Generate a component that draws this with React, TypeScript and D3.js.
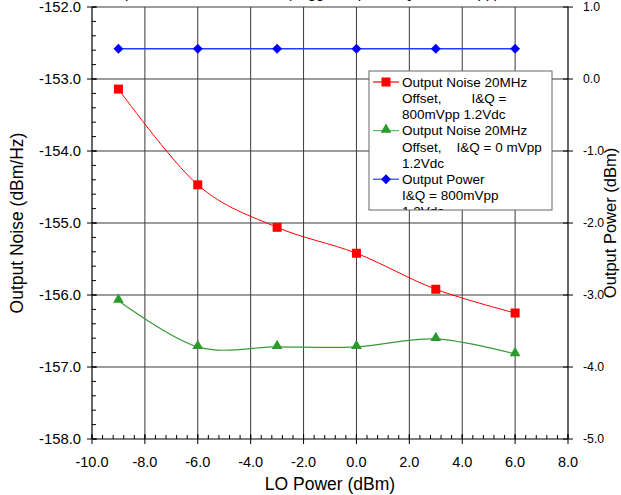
import React from "react";
import * as d3 from "d3";

const loPower = [-9, -6, -3, 0, 3, 6];
const noise800 = [-153.14, -154.47, -155.06, -155.42, -155.92, -156.25];
const noise0 = [-156.08, -156.72, -156.72, -156.72, -156.61, -156.82];
const outPower = [0.42, 0.42, 0.42, 0.42, 0.42, 0.42];

const xTicks = [-10, -8, -6, -4, -2, 0, 2, 4, 6, 8];
const yLeftTicks = [-152, -153, -154, -155, -156, -157, -158];
const yRightTicks = [1, 0, -1, -2, -3, -4, -5];

const legendLines = [
  ["Output Noise 20MHz", "Offset,        I&Q =", "800mVpp 1.2Vdc"],
  ["Output Noise 20MHz", "Offset,    I&Q = 0 mVpp", "1.2Vdc"],
  ["Output Power", "I&Q = 800mVpp", "1.2Vdc"],
];

const W = 621;
const H = 495;
const L = 92;
const R = 568;
const T = 7;
const B = 439;
const FONT = "Liberation Sans, Arial, Helvetica, sans-serif";

export default function App() {
  const x = d3.scaleLinear().domain([-10, 8]).range([L, R]);
  const yL = d3.scaleLinear().domain([-158, -152]).range([B, T]);
  const yR = d3.scaleLinear().domain([-5, 1]).range([B, T]);
  const curve = d3.curveCatmullRom.alpha(0);

  const lineL = d3
    .line<[number, number]>()
    .x((d) => x(d[0]))
    .y((d) => yL(d[1]))
    .curve(curve);
  const lineR = d3
    .line<[number, number]>()
    .x((d) => x(d[0]))
    .y((d) => yR(d[1]))
    .curve(curve);

  const red = loPower.map((v, i) => [v, noise800[i]] as [number, number]);
  const green = loPower.map((v, i) => [v, noise0[i]] as [number, number]);
  const blue = loPower.map((v, i) => [v, outPower[i]] as [number, number]);

  const xMinor = d3.range(-10, 8.001, 0.4);
  const yMinor = d3.range(-158, -151.999, 0.2);

  const gridColor = "#3a3a3a";
  const tri = d3.symbol().type(d3.symbolTriangle).size(50)() as string;
  const fmt = (t: number) => d3.format(".1f")(t).replace("−", "-");

  const legX = 369;
  const legY = 71;
  const legW = 183;
  const legH = 139;
  const lineH = 16.2;

  return (
    <svg
      width={W}
      height={H}
      style={{ position: "absolute", left: 0, top: 0, background: "#fff" }}
      fontFamily={FONT}
    >
      <rect x={0} y={0} width={W} height={H} fill="#fff" />
      {/* title, mostly cut off at the top edge as in the reference */}
      <text x={300} y={-2} textAnchor="middle" fontSize={15} fill="#000">
        Output Noise vs. LO Power (Tagged Input, I&Q = 800mVpp)
      </text>

      {/* grid */}
      {xTicks.slice(1, -1).map((t) => (
        <line key={"gx" + t} x1={x(t)} x2={x(t)} y1={T} y2={B} stroke={gridColor} strokeWidth={1} />
      ))}
      {yLeftTicks.slice(0, -1).map((t) => (
        <line key={"gy" + t} x1={L} x2={R} y1={yL(t)} y2={yL(t)} stroke={gridColor} strokeWidth={1} />
      ))}

      {/* axes */}
      <line x1={L} x2={L} y1={T} y2={B} stroke="#000" strokeWidth={1.2} />
      <line x1={R} x2={R} y1={T} y2={B} stroke="#000" strokeWidth={1.2} />
      <line x1={L} x2={R} y1={B} y2={B} stroke="#000" strokeWidth={1.2} />

      {/* left ticks */}
      {yMinor.map((t, i) => (
        <line key={"ym" + i} x1={L} x2={L + 4} y1={yL(t)} y2={yL(t)} stroke="#000" strokeWidth={1} />
      ))}
      {yLeftTicks.map((t) => (
        <g key={"yl" + t}>
          <line x1={L - 5} x2={L + 5} y1={yL(t)} y2={yL(t)} stroke="#000" strokeWidth={1} />
          <text x={L - 11} y={yL(t)} dy="0.35em" textAnchor="end" fontSize={14.8} fill="#000">
            {fmt(t)}
          </text>
        </g>
      ))}

      {/* right ticks */}
      {yRightTicks.map((t) => (
        <g key={"yr" + t}>
          <line x1={R - 5} x2={R + 5} y1={yR(t)} y2={yR(t)} stroke="#000" strokeWidth={1} />
          <text x={R + 15} y={yR(t)} dy="0.35em" textAnchor="start" fontSize={12.3} fill="#000">
            {fmt(t)}
          </text>
        </g>
      ))}

      {/* x ticks */}
      {xMinor.map((t, i) => (
        <line key={"xm" + i} x1={x(t)} x2={x(t)} y1={B - 4} y2={B} stroke="#000" strokeWidth={1} />
      ))}
      {xTicks.map((t) => (
        <g key={"xt" + t}>
          <line x1={x(t)} x2={x(t)} y1={B - 5} y2={B + 5} stroke="#000" strokeWidth={1} />
          <text x={x(t)} y={B + 28} textAnchor="middle" fontSize={14.5} fill="#000">
            {fmt(t)}
          </text>
        </g>
      ))}

      {/* axis titles */}
      <text x={(L + R) / 2} y={490} textAnchor="middle" fontSize={17.5} fill="#000">
        LO Power (dBm)
      </text>
      <text
        transform={`translate(23,${(T + B) / 2}) rotate(-90)`}
        textAnchor="middle"
        fontSize={17.5}
        fill="#000"
      >
        Output Noise (dBm/Hz)
      </text>
      <text
        transform={`translate(616,${(T + B) / 2}) rotate(-90)`}
        textAnchor="middle"
        fontSize={16.5}
        fill="#000"
      >
        Output Power (dBm)
      </text>

      {/* series */}
      <path d={lineR(blue) as string} fill="none" stroke="#2040ff" strokeWidth={1.3} />
      {blue.map((d, i) => (
        <rect
          key={"b" + i}
          x={x(d[0]) - 3.5}
          y={yR(d[1]) - 3.5}
          width={7}
          height={7}
          fill="#0000ff"
          transform={`rotate(45 ${x(d[0])} ${yR(d[1])})`}
        />
      ))}
      <path d={lineL(red) as string} fill="none" stroke="#ff0000" strokeWidth={1} />
      {red.map((d, i) => (
        <rect key={"r" + i} x={x(d[0]) - 4.5} y={yL(d[1]) - 4.5} width={9} height={9} fill="#ff0000" />
      ))}
      <path d={lineL(green) as string} fill="none" stroke="#3a9a3a" strokeWidth={1.2} />
      {green.map((d, i) => (
        <path key={"g" + i} d={tri} transform={`translate(${x(d[0])},${yL(d[1]) - 1})`} fill="#2a9a2a" />
      ))}

      {/* legend */}
      <defs>
        <clipPath id="legclip">
          <rect x={legX} y={legY} width={legW} height={legH} />
        </clipPath>
      </defs>
      <rect x={legX} y={legY} width={legW} height={legH} fill="#fff" stroke="#666" strokeWidth={1} />
      <g clipPath="url(#legclip)">
        {legendLines.map((lines, si) => {
          const y0 = legY + 11 + si * 3 * lineH;
          const color = si === 0 ? "#ff0000" : si === 1 ? "#5cb85c" : "#2040ff";
          return (
            <g key={"leg" + si}>
              <line x1={legX + 4} x2={legX + 30} y1={y0} y2={y0} stroke={color} strokeWidth={1.2} />
              {si === 0 && <rect x={legX + 17 - 4.5} y={y0 - 4.5} width={9} height={9} fill="#ff0000" />}
              {si === 1 && <path d={tri} transform={`translate(${legX + 17},${y0 - 1})`} fill="#2a9a2a" />}
              {si === 2 && (
                <rect
                  x={legX + 17 - 3.5}
                  y={y0 - 3.5}
                  width={7}
                  height={7}
                  fill="#0000ff"
                  transform={`rotate(45 ${legX + 17} ${y0})`}
                />
              )}
              {lines.map((s, li) => (
                <text
                  key={li}
                  x={legX + 33}
                  y={y0 + li * lineH}
                  dy="0.35em"
                  fontSize={13.5}
                  fill="#000"
                  style={{ whiteSpace: "pre" }}
                >
                  {s}
                </text>
              ))}
            </g>
          );
        })}
      </g>
    </svg>
  );
}
